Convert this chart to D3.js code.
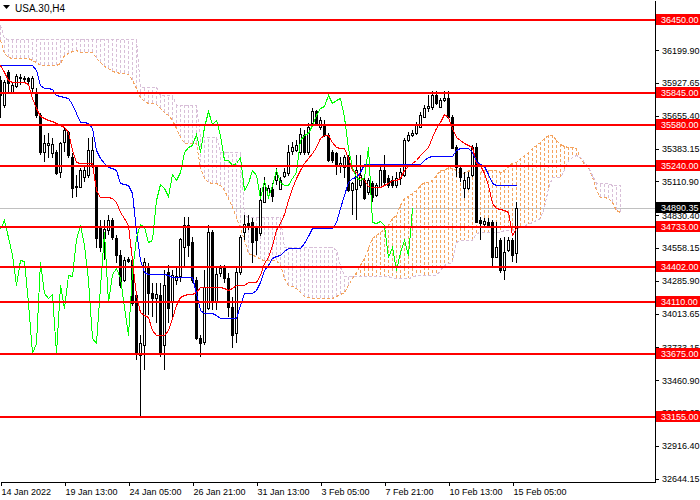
<!DOCTYPE html>
<html>
<head>
<meta charset="utf-8">
<script src="https://cdn.jsdelivr.net/npm/d3@7"></script>
<style>
  html, body { margin: 0; padding: 0; background: #fff; }
  svg { display: block; }
  text { font-family: "Liberation Sans", Arial, sans-serif; }
</style>
</head>
<body>
<div id="container"></div>
<script>
let w = 700;
let h = 500;
let plotW = 655;
let plotH = 482;

const symbol = "USA.30,H4";

const opens = [35952,35744,36018,35852,35902,35969,35960,35969,35886,35844,
35661,35354,35412,35346,35354,35188,35437,35520,35313,35064,
35064,35147,35164,35246,35230,34724,34641,34707,34790,34641,
34500,34292,34466,34458,34168,33670,33752,34400,34184,34143,
34168,33752,34358,34110,34292,34325,34566,34749,34607,34292,
33811,33777,34060,34690,34110,34350,34392,34309,34068,33852,
34358,34690,34765,34773,34724,34682,34940,34998,35047,35122,
35047,35155,35180,35363,35371,35354,35496,35354,35595,35695,
35562,35579,35496,35354,35346,35238,35230,35313,35039,35047,
35081,35122,35022,35097,34998,35064,35205,35139,35122,35081,
35139,35164,35454,35496,35512,35562,35645,35720,35728,35828,
35728,35786,35803,35645,35396,35222,35056,35056,35164,35396,
34790,34757,34773,34773,34483,34624,34375,34541,34624,34516];

const highs = [35985,35952,36035,35927,36002,36002,35985,35977,35985,35886,
35678,35496,35512,35471,35371,35437,35554,35529,35346,35164,
35222,35230,35471,35479,35246,34790,34790,34832,34807,34666,
34541,34483,34483,34475,34192,33836,34475,34433,34267,34267,
34267,34375,34416,34375,34392,34641,34815,34815,34649,34317,
33836,34375,34749,34707,34400,34416,34416,34350,34151,34400,
34666,34832,34832,34807,34740,35056,35147,35081,35097,35222,
35147,35222,35412,35437,35454,35554,35537,35595,35720,35703,
35645,35620,35512,35371,35354,35313,35330,35330,35105,35330,
35330,35139,35139,35114,35097,35230,35330,35164,35155,35188,
35222,35471,35520,35537,35603,35686,35744,35828,35861,35861,
35803,35861,35861,35661,35412,35238,35188,35188,35412,35429,
34815,34807,34807,34790,34773,34641,34649,34649,34641,34940];

const lows = [35637,35720,35844,35844,35886,35910,35935,35919,35852,35637,
35330,35271,35305,35305,35164,35139,35354,35305,34973,34981,
35056,35105,35139,35222,34558,34524,34458,34666,34624,34433,
34226,34275,34433,34076,33628,33147,33545,34002,33985,33935,
33653,33545,33935,33960,34251,34275,34400,34483,34267,33794,
33653,33752,34043,34043,34043,34317,34267,33985,33728,33769,
34334,34624,34707,34433,34500,34657,34931,34973,34940,35081,
35039,35139,35155,35330,35354,35330,35330,35330,35579,35570,
35537,35479,35271,35263,35164,35180,35139,35022,34832,34790,
35056,34956,34998,34940,34981,35056,35081,35056,35056,35056,
35081,35147,35437,35479,35496,35554,35637,35686,35703,35744,
35720,35769,35637,35388,35147,35105,34973,35039,35147,34765,
34624,34724,34732,34400,34475,34350,34292,34524,34441,34433];

const closes = [35828,35935,35927,35910,35985,35977,35969,35944,35969,35661,
35354,35429,35429,35421,35180,35429,35537,35330,35056,35072,
35205,35205,35371,35371,34641,34566,34715,34790,34649,34500,
34251,34458,34450,34101,33686,33769,34441,34184,34143,34176,
33686,34251,34060,34334,34325,34632,34749,34583,34292,33811,
33769,34234,34690,34110,34342,34392,34309,34068,33836,34358,
34649,34757,34732,34607,34624,34956,35089,35056,34989,35172,
35122,35188,35354,35396,35412,35504,35354,35562,35695,35587,
35620,35496,35288,35288,35246,35263,35313,35039,35097,35205,
35164,34973,35122,34981,35081,35205,35105,35081,35081,35139,
35188,35454,35496,35512,35579,35661,35720,35736,35828,35761,
35786,35803,35645,35388,35230,35147,35122,35147,35396,34773,
34765,34782,34749,34483,34566,34375,34524,34624,34500,34890];

// ichimoku lines
const tenkan = [36076,36018,35952,35935,35935,35935,35935,35919,35803,35720,
35653,35637,35620,35612,35595,35579,35562,35520,35371,35271,
35263,35263,35263,35263,35039,34981,34981,34981,34973,34940,
34856,34807,34749,34458,34168,34026,34002,33985,33877,33836,
33836,33836,33877,33977,34084,34151,34168,34176,34176,34192,
34234,34234,34234,34234,34234,34234,34226,34209,34226,34251,
34251,34251,34275,34275,34275,34334,34433,34483,34583,34707,
34765,34840,34956,35056,35139,35205,35263,35305,35346,35396,
35471,35496,35496,35437,35396,35388,35388,35305,35205,35188,
35147,35122,35072,35064,35064,35064,35081,35097,35122,35122,
35139,35205,35238,35263,35288,35330,35363,35396,35479,35554,
35603,35670,35645,35554,35479,35454,35429,35412,35396,35263,
35246,35180,35081,34931,34890,34881,34873,34856,34666,34724];

const kijun = [36076,36076,36076,36076,36076,36076,36076,36076,36076,36035,
35910,35886,35886,35877,35828,35819,35811,35803,35753,35678,
35603,35603,35595,35554,35371,35305,35263,35230,35222,35205,
35097,35089,35081,35014,34707,34458,34358,34342,34342,34342,
34342,34342,34334,34317,34317,34317,34317,34317,34317,34184,
34043,34018,34018,34018,34002,33977,33977,33977,33977,33977,
34084,34184,34184,34184,34209,34275,34375,34416,34475,34491,
34500,34533,34558,34558,34558,34558,34599,34657,34724,34724,
34724,34724,34724,34724,34773,34890,34998,35105,35139,35147,
35188,35255,35255,35255,35255,35255,35255,35255,35255,35255,
35255,35255,35255,35255,35255,35255,35288,35313,35321,35321,
35321,35321,35321,35321,35371,35388,35388,35388,35354,35280,
35255,35238,35172,35097,35081,35081,35081,35081,35081,35081];

const spanA = [36284,36176,36143,36135,36135,36135,36135,36135,36118,36101,
36076,36076,36076,36076,36076,36093,36160,36176,36193,36201,
36184,36184,36184,36184,36135,36101,36068,36052,36027,36018,
36010,36010,36002,35952,35886,35811,35778,35761,35761,35753,
35720,35686,35661,35620,35554,35479,35429,35429,35429,35429,
35230,35139,35105,35097,35097,35081,35039,34973,34898,34815,
34724,34624,34516,34500,34491,34466,34458,34458,34458,34458,
34416,34309,34251,34242,34226,34192,34159,34151,34143,34143,
34143,34143,34143,34143,34159,34176,34192,34251,34309,34358,
34416,34475,34558,34641,34666,34690,34715,34749,34807,34832,
34914,34973,34989,35014,35039,35081,35105,35105,35122,35164,
35205,35205,35230,35222,35205,35180,35180,35205,35188,35164,
35188,35205,35205,35205,35205,35188,35205,35246,35263,35271,
35305,35330,35354,35388,35412,35437,35471,35496,35496,35454,
35421,35404,35396,35396,35388,35305,35255,35230,35147,35039,
34981,34981,34973,34940,34873,34856];

const spanB = [36409,36301,36292,36292,36292,36292,36292,36292,36292,36292,
36292,36292,36292,36292,36292,36292,36292,36292,36292,36292,
36292,36292,36292,36292,36292,36292,36292,36292,36292,36292,
36292,36292,36292,36292,36292,35894,35894,35894,35894,35894,
35828,35828,35828,35828,35744,35744,35744,35744,35744,35744,
35479,35479,35479,35479,35479,35354,35354,35354,35354,35354,
35354,34832,34815,34815,34815,34815,34815,34815,34815,34815,
34815,34566,34566,34566,34566,34566,34566,34566,34566,34566,
34566,34566,34566,34566,34541,34416,34325,34325,34325,34325,
34325,34325,34325,34325,34325,34325,34325,34325,34309,34309,
34309,34309,34309,34317,34334,34334,34334,34334,34334,34334,
34375,34416,34433,34441,34607,34624,34624,34624,34624,34682,
34690,34690,34690,34690,34690,34690,34707,34707,34707,34724,
34724,34749,34757,34773,34790,34807,34898,35056,35147,35147,
35147,35205,35288,35313,35330,35313,35271,35230,35164,35097,
35097,35097,35097,35081,35081,35081];

const chikouShift = 26;
const levels = [36450, 35845, 35580, 35240, 34733, 34402, 34110, 33675, 33155];
const priceTicks = [36199.90, 35927.65, 35655.40, 35383.15, 35110.90, 34830.40, 34558.15,
  34285.90, 34013.65, 33733.15, 33460.90, 33188.65, 32916.40, 32644.15];
const timeTickBars = [0, 16, 32, 48, 64, 80, 96, 112, 128];
const timeLabels = ["14 Jan 2022", "19 Jan 13:00", "24 Jan 05:00", "26 Jan 21:00", "31 Jan 13:00",
  "3 Feb 05:00", "7 Feb 21:00", "10 Feb 13:00", "15 Feb 05:00"];
const lastPrice = 34890.35;

let viz = d3.select("#container")
  .append("svg")
  .attr("width", w)
  .attr("height", h)
  ;

let xScale = d3.scaleLinear().domain([-0.125, 163.625]).range([0, plotW]);
let yScale = d3.scaleLinear().domain([32615.5, 36616]).range([plotH, 0]);

viz.append("clipPath").attr("id", "plotclip")
  .append("rect").attr("x", 0).attr("y", 0).attr("width", plotW).attr("height", plotH);

let plot = viz.append("g").attr("clip-path", "url(#plotclip)");

// bid line
plot.append("line")
  .attr("x1", 0).attr("x2", plotW)
  .attr("y1", Math.round(yScale(lastPrice)) + 0.5).attr("y2", Math.round(yScale(lastPrice)) + 0.5)
  .attr("stroke", "#c0c0c0")
  .attr("shape-rendering", "crispEdges");

// cloud hatch
plot.append("g").selectAll("line")
  .data(spanA)
  .enter()
  .append("line")
  .attr("x1", (d, i) => xScale(i))
  .attr("x2", (d, i) => xScale(i))
  .attr("y1", d => yScale(d))
  .attr("y2", (d, i) => yScale(spanB[i]))
  .attr("stroke", (d, i) => d >= spanB[i] ? "#f4a460" : "#d8bfd8")
  .attr("stroke-dasharray", "3,2")
  .attr("shape-rendering", "crispEdges");

function drawLine(values, color, dash) {
  let line = d3.line()
    .x((d, i) => xScale(i))
    .y(d => Math.round(yScale(d)) + 0.5);
  let p = plot.append("path")
    .datum(values)
    .attr("d", line)
    .attr("fill", "none")
    .attr("stroke", color)
    .attr("stroke-width", 1)
    .attr("shape-rendering", "crispEdges");
  if (dash) p.attr("stroke-dasharray", dash);
}

drawLine(spanA, "#f4a460", "3,2");
drawLine(spanB, "#d8bfd8", "3,2");

// candles
let candles = plot.append("g").selectAll("g")
  .data(closes)
  .enter()
  .append("g");

candles.append("line")
  .attr("x1", (d, i) => xScale(i))
  .attr("x2", (d, i) => xScale(i))
  .attr("y1", (d, i) => Math.round(yScale(highs[i])))
  .attr("y2", (d, i) => Math.round(yScale(lows[i])))
  .attr("stroke", "#000")
  .attr("shape-rendering", "crispEdges");

candles.append("rect")
  .attr("x", (d, i) => xScale(i) - 1)
  .attr("y", (d, i) => Math.round(yScale(Math.max(opens[i], d))) + 0.5)
  .attr("width", 2)
  .attr("height", (d, i) => Math.max(1, Math.round(yScale(Math.min(opens[i], d))) - Math.round(yScale(Math.max(opens[i], d)))))
  .attr("fill", (d, i) => d >= opens[i] ? "#fff" : "#000")
  .attr("stroke", "#000")
  .attr("shape-rendering", "crispEdges");

drawLine(tenkan, "#ff0000");
drawLine(kijun, "#0000ff");
drawLine(closes.slice(chikouShift), "#00ff00");

// horizontal levels
plot.append("g").selectAll("line")
  .data(levels)
  .enter()
  .append("line")
  .attr("x1", 0).attr("x2", plotW)
  .attr("y1", d => Math.round(yScale(d)))
  .attr("y2", d => Math.round(yScale(d)))
  .attr("stroke", "#ff0000")
  .attr("stroke-width", 2)
  .attr("shape-rendering", "crispEdges");

// axes
let yAxis = d3.axisRight(yScale)
  .tickValues(priceTicks)
  .tickFormat(d3.format(".2f"))
  .tickSize(4)
  .tickSizeOuter(0);
let yAxisGroup = viz.append("g").attr("class", "yaxis");
yAxisGroup.call(yAxis);
yAxisGroup.attr("transform", "translate(" + plotW + ",0)");

let xAxis = d3.axisBottom(xScale)
  .tickValues(timeTickBars)
  .tickFormat((d, i) => timeLabels[i])
  .tickSize(4)
  .tickSizeOuter(0);
let xAxisGroup = viz.append("g").attr("class", "xaxis");
xAxisGroup.call(xAxis);
xAxisGroup.attr("transform", "translate(0," + plotH + ")");
xAxisGroup.selectAll("text").attr("text-anchor", "start").attr("x", 0.5);

viz.selectAll(".xaxis text, .yaxis text")
  .attr("font-size", 9)
  .attr("font-family", "Liberation Sans, Arial, sans-serif")
  .attr("fill", "#000");
viz.selectAll(".xaxis path, .xaxis line, .yaxis path, .yaxis line")
  .attr("stroke", "#000")
  .attr("shape-rendering", "crispEdges");

// price labels
let tags = viz.append("g").selectAll("g")
  .data(levels.map(v => ({ v: v, bg: "#ff0000", label: d3.format(".2f")(v) }))
    .concat([{ v: lastPrice, bg: "#000", label: d3.format(".2f")(lastPrice) }]))
  .enter()
  .append("g")
  .attr("transform", d => "translate(" + (plotW + 1) + "," + Math.round(yScale(d.v)) + ")");

tags.append("rect")
  .attr("x", 0).attr("y", -6)
  .attr("width", w - plotW).attr("height", 11)
  .attr("fill", d => d.bg);

tags.append("text")
  .attr("x", 5).attr("y", 0)
  .attr("dy", "0.32em")
  .attr("font-size", 9)
  .attr("fill", "#fff")
  .text(d => d.label);

// symbol header
viz.append("path")
  .attr("d", "M3,5 L10,5 L6.5,9 Z")
  .attr("fill", "#000");
viz.append("text")
  .attr("x", 15).attr("y", 12)
  .attr("font-size", 10)
  .attr("fill", "#000")
  .text(symbol);
</script>
</body>
</html>
